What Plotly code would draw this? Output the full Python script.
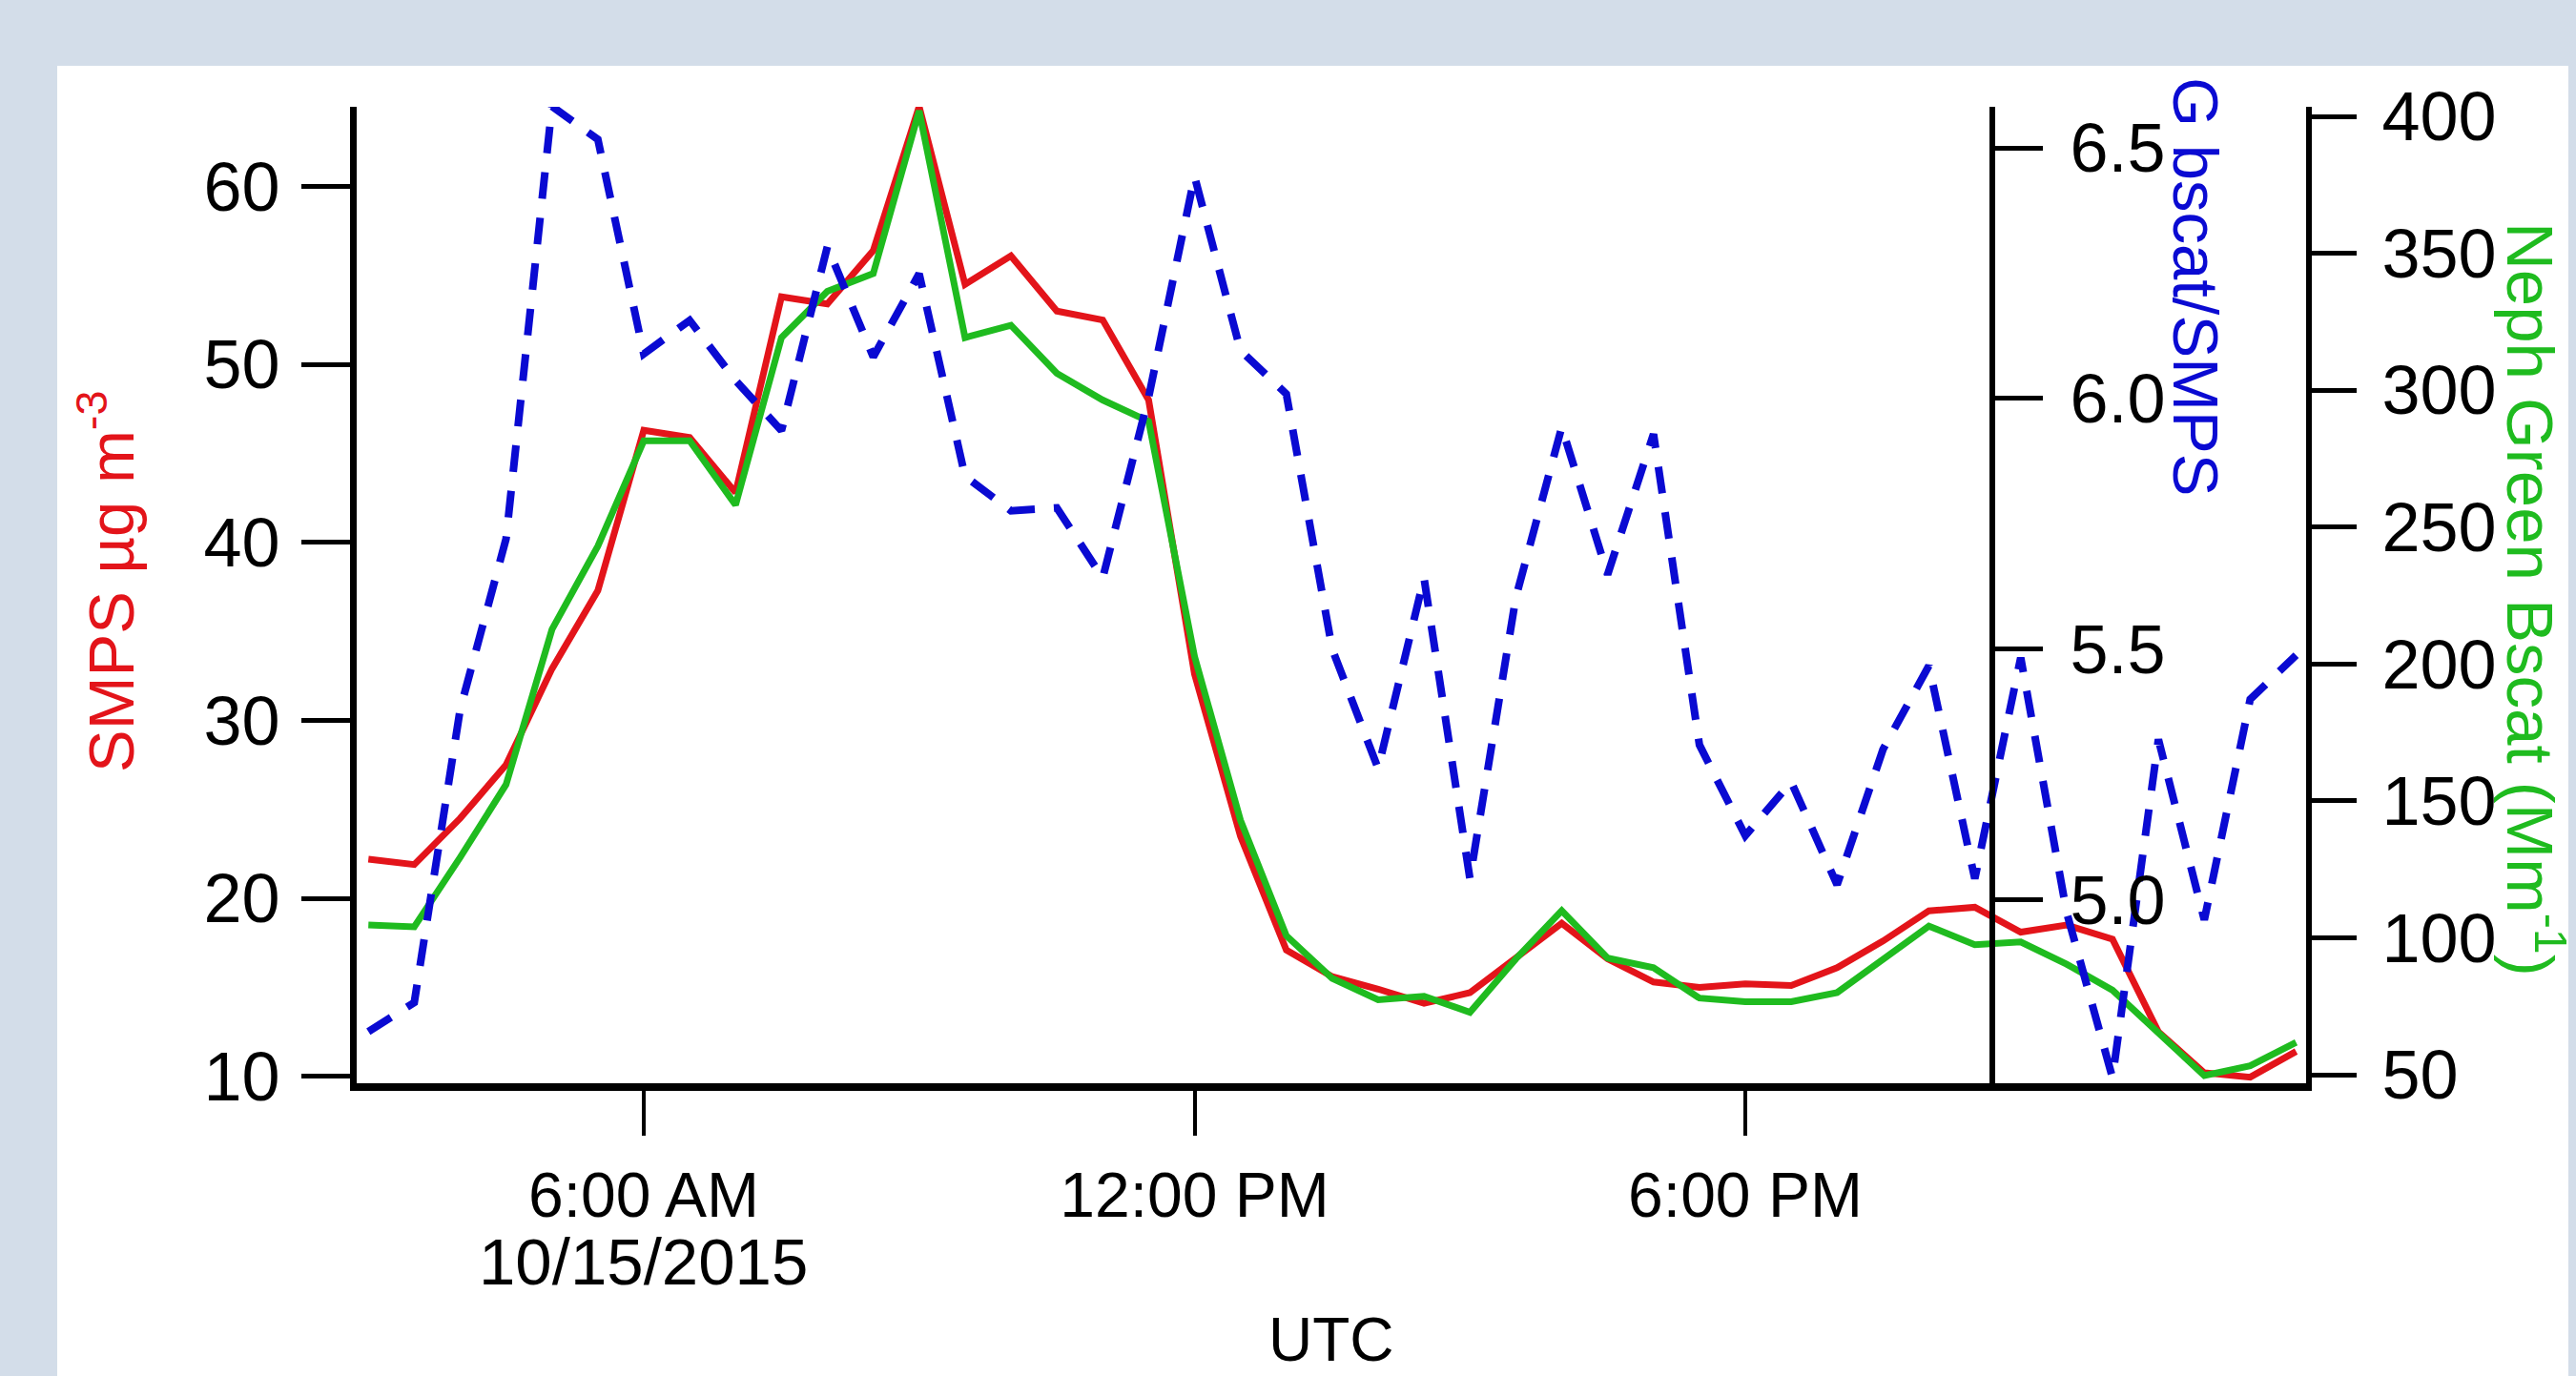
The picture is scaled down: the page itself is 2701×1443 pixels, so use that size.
import plotly.graph_objects as go

# ---------------- data ----------------
times = [
    "2015-10-15 03:00", "2015-10-15 03:30", "2015-10-15 04:00", "2015-10-15 04:30",
    "2015-10-15 05:00", "2015-10-15 05:30", "2015-10-15 06:00", "2015-10-15 06:30",
    "2015-10-15 07:00", "2015-10-15 07:30", "2015-10-15 08:00", "2015-10-15 08:30",
    "2015-10-15 09:00", "2015-10-15 09:30", "2015-10-15 10:00", "2015-10-15 10:30",
    "2015-10-15 11:00", "2015-10-15 11:30", "2015-10-15 12:00", "2015-10-15 12:30",
    "2015-10-15 13:00", "2015-10-15 13:30", "2015-10-15 14:00", "2015-10-15 14:30",
    "2015-10-15 15:00", "2015-10-15 15:30", "2015-10-15 16:00", "2015-10-15 16:30",
    "2015-10-15 17:00", "2015-10-15 17:30", "2015-10-15 18:00", "2015-10-15 18:30",
    "2015-10-15 19:00", "2015-10-15 19:30", "2015-10-15 20:00", "2015-10-15 20:30",
    "2015-10-15 21:00", "2015-10-15 21:30", "2015-10-15 22:00", "2015-10-15 22:30",
    "2015-10-15 23:00", "2015-10-15 23:30", "2015-10-16 00:00",
]

smps = [22.2, 21.9, 24.5, 27.5, 32.9, 37.3, 46.3, 45.9, 42.8, 53.8, 53.4, 56.4,
        64.5, 54.5, 56.1, 53.0, 52.5, 48.0, 32.6, 23.5, 17.1, 15.6, 14.9, 14.1,
        14.7, 16.6, 18.6, 16.6, 15.3, 15.0, 15.2, 15.1, 16.1, 17.6, 19.3, 19.5,
        18.1, 18.5, 17.7, 12.5, 10.2, 9.95, 11.4]

neph_green = [104.7, 104.0, 129.4, 156.0, 212.6, 243.1, 281.5, 281.5, 258.1, 319.2,
              336.1, 342.6, 402.0, 319.2, 323.7, 306.2, 296.4, 288.6, 202.8, 143.0,
              100.8, 85.2, 77.4, 78.7, 72.8, 92.3, 109.9, 92.6, 89.1, 78.0, 76.7,
              76.7, 80.0, 92.3, 104.3, 97.5, 98.5, 90.4, 80.9, 65.3, 49.7, 53.3, 61.8]

g_ratio = [4.737, 4.795, 5.38, 5.72, 6.583, 6.517, 6.089, 6.156, 6.036, 5.936,
           6.303, 6.083, 6.249, 5.845, 5.776, 5.782, 5.642, 6.003, 6.443, 6.096,
           6.009, 5.50, 5.262, 5.642, 5.042, 5.603, 5.943, 5.649, 5.929, 5.309,
           5.128, 5.235, 5.03, 5.30, 5.467, 5.042, 5.483, 4.975, 4.645, 5.32,
           4.96, 5.40, 5.488]

x_tickvals = ["2015-10-15 06:00", "2015-10-15 12:00", "2015-10-15 18:00"]
x_ticktext = ["6:00 AM", "12:00 PM", "6:00 PM"]
left_ticks = [10, 20, 30, 40, 50, 60]
neph_ticks = [50, 100, 150, 200, 250, 300, 350, 400]
ratio_ticks = [5.0, 5.5, 6.0, 6.5]
ratio_ticktext = ["5.0", "5.5", "6.0", "6.5"]

# ---------------- style ----------------
# the page body has an 8px margin, so the figure is drawn 8px in from the corner
OFF = 8
W, H = 2701 - OFF, 1443 - OFF
# plot area in screen pixels
L, R, T, B = 374, 2418, 112, 1136
RED = "#e3141a"
GREEN = "#1fbb1f"
BLUE = "#0a0ad2"
SLIDE = "#d3dde9"
REG = "Liberation Sans, Arial, sans-serif"


def px(xpix):
    return (xpix - L) / (R - L)


def py(ypix):
    return (B - ypix) / (B - T)


fig = go.Figure()
fig.add_trace(go.Scatter(x=times, y=smps, mode="lines", yaxis="y",
                         line=dict(color=RED, width=7), showlegend=False))
fig.add_trace(go.Scatter(x=times, y=neph_green, mode="lines", yaxis="y2",
                         line=dict(color=GREEN, width=7), showlegend=False))
fig.add_trace(go.Scatter(x=times, y=g_ratio, mode="lines", yaxis="y3",
                         line=dict(color=BLUE, width=8, dash="28px,20px"),
                         showlegend=False))

axis_common = dict(showgrid=False, zeroline=False, showline=True,
                   linecolor="black", ticks="outside", tickcolor="black",
                   mirror=False)

fig.update_layout(
    width=W, height=H, autosize=False,
    margin=dict(l=L - OFF, r=W - (R - OFF), t=T - OFF, b=H - (B - OFF), pad=0),
    paper_bgcolor=SLIDE,
    plot_bgcolor="white",
    xaxis=dict(axis_common, type="date",
               range=["2015-10-15 02:52:22", "2015-10-16 00:06:32"],
               tickvals=x_tickvals, ticktext=x_ticktext,
               ticklen=47, tickwidth=4, linewidth=8,
               tickfont=dict(family=REG, size=66, color="black"),
               ticklabelstandoff=6),
    yaxis=dict(axis_common, range=[9.61, 64.48], tickvals=left_ticks,
               ticklen=51, tickwidth=5, linewidth=7,
               tickfont=dict(family=REG, size=72, color="black"),
               ticklabelstandoff=8),
    yaxis2=dict(axis_common, overlaying="y", side="right", anchor="x",
                range=[46.9, 403.5], tickvals=neph_ticks,
                ticklen=47, tickwidth=5, linewidth=6,
                tickfont=dict(family=REG, size=72, color="black"),
                ticklabelstandoff=12),
    yaxis3=dict(axis_common, overlaying="y", side="right", anchor="free",
                position=(2089 - L) / (R - L),
                range=[4.634, 6.582], tickvals=ratio_ticks, ticktext=ratio_ticktext,
                ticklen=50, tickwidth=5, linewidth=6,
                tickfont=dict(family=REG, size=72, color="black"),
                ticklabelstandoff=14),
)

# white panel over the bluish slide background
fig.add_shape(type="rect", xref="paper", yref="paper", layer="below",
              x0=px(60), x1=px(2701 + 20), y0=py(1443 + 20), y1=py(69),
              fillcolor="white", line=dict(width=0))

annos = [
    dict(text="SMPS \u00b5g m<sup>-3</sup>", x=px(112), y=py(610), textangle=-90,
         font=dict(family=REG, size=67, color=RED)),
    dict(text="G bscat/SMPS", x=px(2303), y=py(300), textangle=90,
         font=dict(family=REG, size=67, color=BLUE)),
    dict(text="Neph Green Bscat (Mm<sup>-1</sup>)", x=px(2658), y=py(628), textangle=90,
         font=dict(family=REG, size=69, color=GREEN)),
    dict(text="10/15/2015", x=px(674), y=py(1323), textangle=0,
         font=dict(family=REG, size=69, color="black")),
    dict(text="UTC", x=px(1396), y=py(1405), textangle=0,
         font=dict(family=REG, size=64, color="black")),
]
for a in annos:
    fig.add_annotation(xref="paper", yref="paper", showarrow=False,
                       xanchor="center", yanchor="middle", **a)

# colour the 8px page margin like the slide background
fig.write_html("out.html",
               post_script="document.body.style.background='%s';" % SLIDE)
